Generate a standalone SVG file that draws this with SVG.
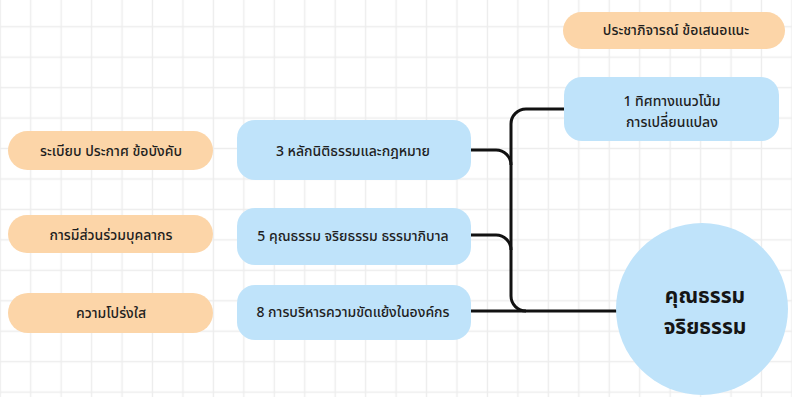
<svg xmlns="http://www.w3.org/2000/svg" width="792" height="397" viewBox="0 0 792 397">
  <defs>
    <pattern id="grid" patternUnits="userSpaceOnUse" x="15.5" y="11.5" width="30.45" height="30.45">
      <path d="M15.2 0 V30.45 M0 15.2 H30.45" stroke="#ededed" stroke-width="1.4" fill="none"/>
    </pattern>
  </defs>
  <style>
    .peach { fill: #fcd5a8; }
    .sky { fill: #bfe3fa; }
    .lbl { font-family: "Noto Sans Thai", "Noto Sans", "Liberation Sans", sans-serif; font-size: 14px; font-weight: 500; fill: #1e1e1e; text-anchor: middle; dominant-baseline: central; }
    .hub { font-family: "Noto Sans Thai", "Noto Sans", "Liberation Sans", sans-serif; font-size: 21px; font-weight: 700; fill: #151515; text-anchor: middle; dominant-baseline: central; }
    .wire { fill: none; stroke: #111; stroke-width: 3; }
  </style>

  <rect width="792" height="397" fill="#ffffff"/>
  <rect width="792" height="397" fill="url(#grid)"/>

  <!-- connectors -->
  <g id="connectors">
    <path class="wire" d="M471 150 H496 A15 15 0 0 1 511 165"/>
    <path class="wire" d="M471 235 H496 A15 15 0 0 1 511 250"/>
    <path class="wire" d="M564 109 H526 A15 15 0 0 0 511 124 V296 A15 15 0 0 0 526 311 H618"/>
    <path class="wire" d="M471 311 H526"/>
  </g>

  <!-- left column: peach pills -->
  <g id="regulations">
    <rect class="peach" x="8" y="131" width="205" height="39" rx="19.5"/>
    <text class="lbl" x="111" y="151">ระเบียบ ประกาศ ข้อบังคับ</text>
  </g>
  <g id="participation">
    <rect class="peach" x="8" y="215" width="205" height="38" rx="19"/>
    <text class="lbl" x="111" y="235">การมีส่วนร่วมบุคลากร</text>
  </g>
  <g id="transparency">
    <rect class="peach" x="8" y="293" width="205" height="40" rx="20"/>
    <text class="lbl" x="111" y="313">ความโปร่งใส</text>
  </g>

  <!-- middle column: principle boxes -->
  <g id="rule-of-law">
    <rect class="sky" x="237" y="120" width="234" height="60" rx="18"/>
    <text class="lbl" x="353" y="151">3 หลักนิติธรรมและกฎหมาย</text>
  </g>
  <g id="governance">
    <rect class="sky" x="237" y="208" width="234" height="57" rx="18"/>
    <text class="lbl" x="353" y="236">5 คุณธรรม จริยธรรม ธรรมาภิบาล</text>
  </g>
  <g id="conflict">
    <rect class="sky" x="237" y="285" width="234" height="55" rx="18"/>
    <text class="lbl" x="353" y="312">8 การบริหารความขัดแย้งในองค์กร</text>
  </g>

  <!-- right column -->
  <g id="hearing">
    <rect class="peach" x="563" y="12" width="222" height="37" rx="18.5"/>
    <text class="lbl" x="676" y="30">ประชาภิจารณ์ ข้อเสนอแนะ</text>
  </g>
  <g id="trends">
    <rect class="sky" x="564" y="77" width="215" height="64" rx="18"/>
    <text class="lbl" x="672" y="101">1 ทิศทางแนวโน้ม</text>
    <text class="lbl" x="672" y="122">การเปลี่ยนแปลง</text>
  </g>

  <!-- central hub -->
  <g id="ethics">
    <circle cx="702" cy="309" r="86" fill="#bfe3fa"/>
    <text class="hub" x="705" y="296">คุณธรรม</text>
    <text class="hub" x="705" y="327">จริยธรรม</text>
  </g>
</svg>
